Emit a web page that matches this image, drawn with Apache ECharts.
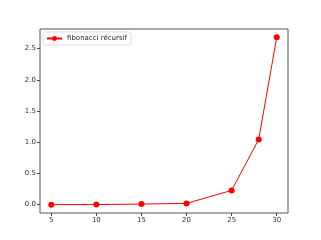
<!DOCTYPE html>
<html><head><meta charset="utf-8">
<script src="https://cdn.jsdelivr.net/npm/echarts@6/dist/echarts.min.js"></script>
<style>html,body{margin:0;padding:0;background:#fff}#c{width:321px;height:240px}</style>
</head><body><div id="c"></div>
<script>
var xValues = [5, 10, 15, 20, 25, 28, 30];
var yValues = [0.0001, 0.0008, 0.009, 0.02, 0.228, 1.045, 2.68];
var seriesName = 'fibonacci récursif';
var xTicks = [5, 10, 15, 20, 25, 30];
var yTicks = [0.0, 0.5, 1.0, 1.5, 2.0, 2.5];

var chart = echarts.init(document.getElementById('c'), null, {renderer: 'canvas'});
var lbl = {fontFamily: 'DejaVu Sans', fontSize: 7, color: '#333'};
chart.setOption({
  animation: false,
  grid: {left: 40, top: 29, right: 33, bottom: 27, show: true, borderColor: '#555', borderWidth: 1, containLabel: false},
  legend: {
    show: true, left: 43, top: 32, orient: 'vertical',
    itemWidth: 15, itemHeight: 6, itemGap: 2,
    padding: [3, 4, 3, 3],
    borderColor: '#ddd', borderWidth: 1, borderRadius: 2,
    textStyle: {fontFamily: 'DejaVu Sans', fontSize: 7, color: '#222'},
    data: [seriesName]
  },
  xAxis: {
    type: 'value', min: 3.75, max: 31.25,
    splitLine: {show: false},
    axisLine: {show: false, onZero: false},
    axisTick: {show: true, inside: false, length: 3, lineStyle: {color: '#444'}, customValues: xTicks},
    axisLabel: Object.assign({customValues: xTicks, margin: 4, formatter: function(v){return String(v);}}, lbl)
  },
  yAxis: {
    type: 'value', min: -0.134, max: 2.814,
    splitLine: {show: false},
    axisLine: {show: false, onZero: false},
    axisTick: {show: true, inside: false, length: 3, lineStyle: {color: '#444'}, customValues: yTicks},
    axisLabel: Object.assign({customValues: yTicks, margin: 4, formatter: function(v){return v.toFixed(1);}}, lbl)
  },
  series: [{
    name: seriesName, type: 'line',
    data: xValues.map(function(x, i){return [x, yValues[i]];}),
    symbol: 'circle', symbolSize: 6, showAllSymbol: true,
    lineStyle: {color: '#ff0000', width: 1},
    itemStyle: {color: '#ff0000'}
  }]
});
</script></body></html>
